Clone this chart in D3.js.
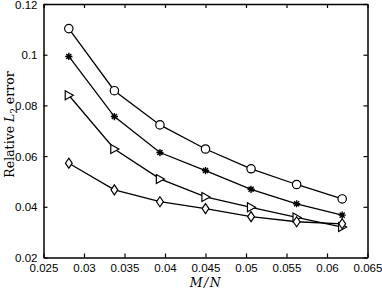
<!DOCTYPE html>
<html><head><meta charset="utf-8">
<script src="https://cdn.jsdelivr.net/npm/d3@7"></script>
<style>body{margin:0;background:#fff}svg{display:block}</style>
</head><body><svg id="c" width="382" height="293"></svg>
<script>
const xValues = [0.028125, 0.03375, 0.039375, 0.045, 0.050625, 0.05625, 0.061875];
const circleSeries = [0.1103, 0.0858, 0.0723, 0.0628, 0.0550, 0.0488, 0.0431];
const starSeries = [0.0993, 0.0756, 0.0614, 0.0543, 0.0469, 0.0412, 0.0367];
const triangleSeries = [0.0840, 0.0628, 0.0510, 0.0439, 0.0398, 0.0358, 0.0320];
const diamondSeries = [0.0572, 0.0467, 0.0420, 0.0393, 0.0361, 0.0341, 0.0333];
const xTicks = [0.025, 0.03, 0.035, 0.04, 0.045, 0.05, 0.055, 0.06, 0.065];
const yTicks = [0.02, 0.04, 0.06, 0.08, 0.1, 0.12];
const xTickLabels = ["0.025","0.03","0.035","0.04","0.045","0.05","0.055","0.06","0.065"];
const yTickLabels = ["0.02","0.04","0.06","0.08","0.1","0.12"];

(function(){
const svg = d3.select("#c");
const L = 43.5, R = 367.5, T = 4, B = 257.5;
const x = d3.scaleLinear().domain([0.025, 0.065]).range([L, R]);
const y = d3.scaleLinear().domain([0.02, 0.12]).range([B, T]);

const g = svg.append("g");
const tickLen = 4;
const axB = g.append("g").attr("transform",`translate(0,${B})`)
  .call(d3.axisBottom(x).tickValues(xTicks).tickFormat((d,i)=>xTickLabels[i]).tickSizeInner(-tickLen).tickSizeOuter(0).tickPadding(6));
const axT = g.append("g").attr("transform",`translate(0,${T})`)
  .call(d3.axisTop(x).tickValues(xTicks).tickFormat("").tickSizeInner(-tickLen).tickSizeOuter(0));
const axL = g.append("g").attr("transform",`translate(${L},0)`)
  .call(d3.axisLeft(y).tickValues(yTicks).tickFormat((d,i)=>yTickLabels[i]).tickSizeInner(-tickLen).tickSizeOuter(0).tickPadding(6));
const axR = g.append("g").attr("transform",`translate(${R},0)`)
  .call(d3.axisRight(y).tickValues(yTicks).tickFormat("").tickSizeInner(-tickLen).tickSizeOuter(0));
[axB, axT, axL, axR].forEach(a=>{
  a.selectAll("path.domain").attr("stroke","#000").attr("stroke-width",1.5);
  a.selectAll(".tick line").attr("stroke","#000").attr("stroke-width",1.2);
  a.selectAll("text").attr("font-family","'Liberation Sans', Arial, sans-serif").attr("font-size","11.5px").attr("fill","#000");
});
axL.selectAll("text").attr("dy","0.36em");

const line = d3.line().x((d,i)=>x(xValues[i])).y(d=>y(d));
const series = [
  {vals: circleSeries, m: "circle"},
  {vals: starSeries, m: "star"},
  {vals: triangleSeries, m: "tri"},
  {vals: diamondSeries, m: "diamond"}
];
series.forEach(s=>{
  g.append("path").datum(s.vals).attr("d", line).attr("fill","none").attr("stroke","#000").attr("stroke-width",1.3);
});
series.forEach(s=>{
  s.vals.forEach((v,i)=>{
    const cx = x(xValues[i]), cy = y(v);
    if (s.m === "circle") {
      g.append("circle").attr("cx",cx).attr("cy",cy).attr("r",4.2).attr("fill","#fff").attr("stroke","#000").attr("stroke-width",1.2);
    } else if (s.m === "star") {
      const r = 3.6;
      let d = "";
      [0, 45, 90, 135].forEach(a=>{
        const rad = a*Math.PI/180;
        d += `M${cx - r*Math.cos(rad)},${cy - r*Math.sin(rad)}L${cx + r*Math.cos(rad)},${cy + r*Math.sin(rad)}`;
      });
      g.append("path").attr("d",d).attr("stroke","#000").attr("stroke-width",1.4);
    } else if (s.m === "tri") {
      const r = 4.5;
      g.append("path").attr("d",`M${cx+r},${cy}L${cx-r*0.8},${cy-r}L${cx-r*0.8},${cy+r}Z`)
        .attr("fill","#fff").attr("stroke","#000").attr("stroke-width",1.2);
    } else {
      const w = 3.4, h = 5;
      g.append("path").attr("d",`M${cx},${cy-h}L${cx+w},${cy}L${cx},${cy+h}L${cx-w},${cy}Z`)
        .attr("fill","#fff").attr("stroke","#000").attr("stroke-width",1.2);
    }
  });
});

svg.append("text").attr("x",206).attr("y",287).attr("text-anchor","middle")
  .attr("font-family","'DejaVu Serif',serif").attr("font-size","12.5px").attr("font-style","italic")
  .attr("letter-spacing","1.5px")
  .text("M/N");
const yl = svg.append("text").attr("transform",`translate(14,124.5) rotate(-90)`).attr("text-anchor","middle")
  .attr("font-family","'DejaVu Serif',serif").attr("font-size","12.5px");
yl.append("tspan").text("Relative ");
yl.append("tspan").attr("font-style","italic").text("L");
yl.append("tspan").attr("font-size","8.5px").attr("dy","3").text("2");
yl.append("tspan").attr("dy","-3").text(" error");
})();
</script></body></html>
